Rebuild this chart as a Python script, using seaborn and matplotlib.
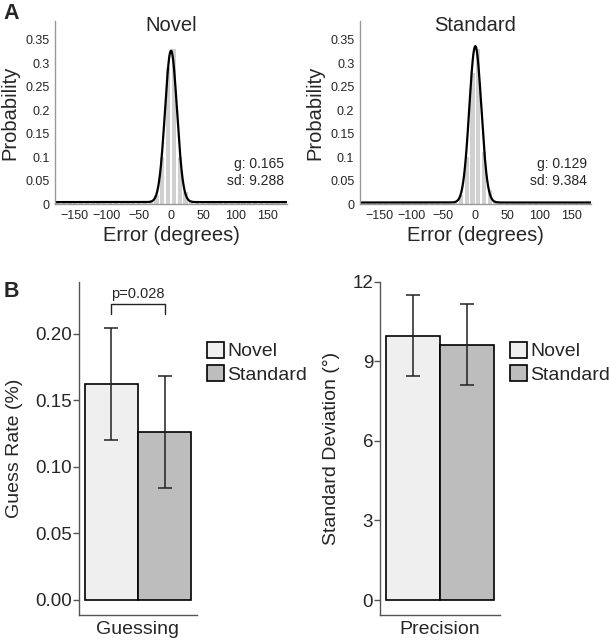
import numpy as np
import pandas as pd
import seaborn as sns
import matplotlib.pyplot as plt
from matplotlib.ticker import FuncFormatter

sns.set_style("white")
plt.rcParams['font.family'] = ['Liberation Sans', 'DejaVu Sans']

# ---- panel A: error histograms (9 deg bins) + mixture model fit ----
bin_centers = np.arange(-175.5, 180, 9.0)

novel_hist = [0.004, 0.005, 0.003, 0.004, 0.005, 0.004, 0.003, 0.004, 0.005, 0.004,
              0.004, 0.003, 0.005, 0.004, 0.004, 0.004, 0.006, 0.020, 0.100, 0.290,
              0.330, 0.100, 0.025, 0.006, 0.004, 0.005, 0.004, 0.003, 0.004, 0.005,
              0.004, 0.003, 0.004, 0.005, 0.004, 0.004, 0.003, 0.004, 0.005, 0.004]
standard_hist = [0.003, 0.004, 0.003, 0.004, 0.003, 0.004, 0.003, 0.003, 0.004, 0.003,
                 0.004, 0.003, 0.004, 0.003, 0.003, 0.004, 0.005, 0.020, 0.100, 0.280,
                 0.330, 0.110, 0.030, 0.006, 0.004, 0.003, 0.004, 0.003, 0.004, 0.003,
                 0.003, 0.004, 0.003, 0.004, 0.003, 0.004, 0.003, 0.003, 0.004, 0.003]

fit_g = {"Novel": 0.165, "Standard": 0.129}
fit_sd = {"Novel": 9.288, "Standard": 9.384}
hists = {"Novel": novel_hist, "Standard": standard_hist}

# ---- panel B: group means and error bars ----
conditions = ["Novel", "Standard"]
guess_rate = [0.162, 0.126]
guess_err = [0.042, 0.042]
precision_sd = [9.97, 9.63]
precision_err = [1.53, 1.53]
p_text = "p=0.028"

bar_colors = ["#efefef", "#bdbdbd"]

fig = plt.figure(figsize=(6.09, 6.41), dpi=100)

a_axes = [fig.add_axes([0.0903, 0.6817, 0.381, 0.2855]),
          fig.add_axes([0.591, 0.6817, 0.379, 0.2855])]

xs = np.arange(-180, 180.5, 0.5)
for ax, name in zip(a_axes, ["Novel", "Standard"]):
    hdf = pd.DataFrame({"error": bin_centers, "prob": hists[name]})
    sns.barplot(data=hdf, x="error", y="prob", native_scale=True, width=0.72,
                color="#d0d0d0", saturation=1, linewidth=0, ax=ax)
    # fitted mixture (gaussian + uniform guessing), per 9 deg bin
    g, sd = fit_g[name], fit_sd[name]
    model = ((1 - g) * np.exp(-xs**2 / (2 * sd**2)) / (sd * np.sqrt(2 * np.pi)) + g / 360) * 9
    sns.lineplot(x=xs, y=model, color="black", linewidth=1.6, ax=ax)
    ax.set_xlim(-180, 180)
    ax.set_ylim(0, 0.39)
    ax.set_xticks([-150, -100, -50, 0, 50, 100, 150])
    ax.set_yticks([0, 0.05, 0.1, 0.15, 0.2, 0.25, 0.3, 0.35])
    ax.yaxis.set_major_formatter(FuncFormatter(lambda v, p: "%g" % round(v, 2)))
    ax.tick_params(axis="both", labelsize=9, length=2, width=0.8, color="#888888", pad=2)
    ax.set_xlabel("Error (degrees)", fontsize=14.5, labelpad=3)
    ax.set_ylabel("Probability", fontsize=14.5, labelpad=4)
    for s in ["top", "right"]:
        ax.spines[s].set_visible(False)
    for s in ["left", "bottom"]:
        ax.spines[s].set_color("#999999")
        ax.spines[s].set_linewidth(1)
    ax.text(0.5, 1.025, name, transform=ax.transAxes, ha="center", va="top", fontsize=14.5)
    ax.text(0.985, 0.09, "g: %.3f\nsd: %.3f" % (g, sd), transform=ax.transAxes,
            ha="right", va="bottom", multialignment="right", fontsize=10, linespacing=1.25)

fig.text(0.006, 0.995, "A", fontsize=15.5, fontweight="bold", va="top", ha="left")
fig.text(0.006, 0.561, "B", fontsize=15.5, fontweight="bold", va="top", ha="left")

b_axes = [fig.add_axes([0.1297, 0.0406, 0.1938, 0.5195]),
          fig.add_axes([0.624, 0.0406, 0.197, 0.5195])]

panels = [("Guessing", guess_rate, guess_err, "Guess Rate (%)", (-0.0113, 0.2388),
           [0, 0.05, 0.1, 0.15, 0.2], "%.2f"),
          ("Precision", precision_sd, precision_err, "Standard Deviation (°)", (-0.565, 12),
           [0, 3, 6, 9, 12], "%d")]

for ax, (measure, vals, errs, ylab, ylim, yt, fmt) in zip(b_axes, panels):
    bdf = pd.DataFrame({"measure": [measure] * 2, "condition": conditions, "value": vals})
    sns.barplot(data=bdf, x="measure", y="value", hue="condition", palette=bar_colors,
                saturation=1, edgecolor="black", linewidth=1.2, width=0.8,
                errorbar=None, ax=ax)
    for cont, e in zip(ax.containers, errs):
        for bar in cont:
            cx = bar.get_x() + bar.get_width() / 2
            ax.errorbar(cx, bar.get_height(), yerr=e, color="#222222",
                        elinewidth=1.1, capsize=5.2, capthick=1.1)
    ax.set_xlim(-0.445, 0.445)
    ax.set_ylim(*ylim)
    ax.set_yticks(yt)
    ax.yaxis.set_major_formatter(FuncFormatter(lambda v, p, f=fmt: f % v))
    ax.tick_params(axis="y", labelsize=13.5, length=4, width=1, color="#555555", pad=1, left=True)
    ax.tick_params(axis="x", labelsize=14, length=0, pad=4)
    ax.set_xlabel("")
    ax.set_ylabel(ylab, fontsize=14, labelpad=9)
    for s in ["top", "right"]:
        ax.spines[s].set_visible(False)
    for s in ["left", "bottom"]:
        ax.spines[s].set_color("#555555")
        ax.spines[s].set_linewidth(1)
    handles, labels = ax.get_legend_handles_labels()
    ax.legend(handles, labels, loc="upper left", bbox_to_anchor=(1.0, 0.85),
              frameon=False, fontsize=14, handlelength=0.9, handleheight=0.9,
              handletextpad=0.15, borderaxespad=0.1, labelspacing=0.25)

# significance bracket
axg = b_axes[0]
xl = axg.containers[0][0].get_x() + axg.containers[0][0].get_width() / 2
xr = axg.containers[1][0].get_x() + axg.containers[1][0].get_width() / 2
yb, yt_ = 0.2145, 0.2225
axg.plot([xl, xl, xr, xr], [yb, yt_, yt_, yb], color="#222222", linewidth=1)
axg.text((xl + xr) / 2, yt_ + 0.002, p_text, ha="center", va="bottom", fontsize=10.5)

fig.savefig("out.png", dpi=100)
